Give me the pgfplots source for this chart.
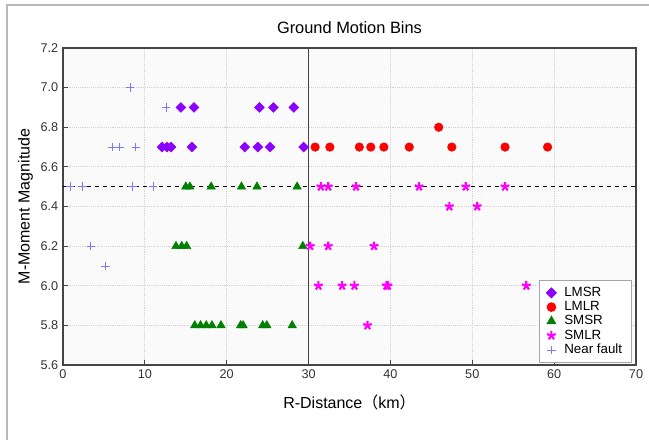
\documentclass[border=0pt]{standalone}
\usepackage{fontspec}
\setmainfont{Liberation Sans}
\newfontfamily\cjk{Noto Sans CJK SC}
\usepackage{pgfplots}
\pgfplotsset{compat=1.18}
\definecolor{lmsr}{HTML}{8B00FF}
\definecolor{lmlr}{HTML}{FF0000}
\definecolor{smsr}{HTML}{008000}
\definecolor{smlr}{HTML}{FF00FF}
\definecolor{nearf}{HTML}{7B7BFF}
\definecolor{axgray}{HTML}{444444}

\begin{document}
\begin{tikzpicture}[x=0.75pt,y=0.75pt]
\useasboundingbox (-63,-75) rectangle (586,365);
\draw[gray!55, line width=0.8pt] (-56,-75) -- (-56,360) -- (586,360);
\begin{axis}[
  at={(0,0)}, anchor=south west,
  scale only axis, width=429.75pt, height=237.75pt,
  xmin=0, xmax=70, ymin=5.6, ymax=7.2,
  xtick={0,10,...,70}, ytick={5.6,5.8,...,7.2},
  yticklabel style={/pgf/number format/fixed, /pgf/number format/precision=1, /pgf/number format/fixed zerofill},
  /pgf/number format/assume math mode=true,
  ticklabel style={font=\fontsize{9.5}{10}\selectfont, text=black!80},
  tick pos=left, tick align=inside, major tick length=4pt,
  axis line style={draw=axgray, line width=1pt}, tick style={draw=axgray, line width=0.8pt},
  grid=major, grid style={densely dotted, gray!35, line width=0.6pt},
  axis background/.style={fill=black!2},
  title={Ground Motion Bins}, title style={font=\fontsize{12.3}{14}\selectfont, yshift=1pt},
  xlabel={R-Distance{\cjk （}km{\cjk ）}}, ylabel={M-Moment Magnitude},
  label style={font=\fontsize{12}{14}\selectfont},
  xlabel style={yshift=-5pt}, ylabel style={yshift=-1pt},
  legend style={at={(0.993,0.006)}, anchor=south east, font=\fontsize{10}{12}\selectfont,
    draw=gray!70, line width=0.8pt, fill=white, row sep=-3pt, inner xsep=5pt, inner ysep=2.5pt,
    nodes={inner ysep=2.6pt},
    /tikz/every odd column/.append style={column sep=4pt}},
  legend cell align=left,
  clip=false,
]
\addplot[forget plot, black, dashed, line width=0.9pt] coordinates {(0,6.5) (70,6.5)};
\addplot[forget plot, axgray, line width=1pt] coordinates {(30,5.6) (30,7.2)};

\addplot[only marks, mark=square*, mark size=2.6pt, color=lmsr, mark options={rotate=45}] coordinates {
  (14.4,6.9) (16.0,6.9) (24.0,6.9) (25.7,6.9) (28.2,6.9)
  (12.1,6.7) (12.7,6.7) (13.2,6.7) (15.75,6.7) (22.2,6.7) (23.8,6.7) (25.3,6.7) (29.4,6.7)
};
\addplot[only marks, mark=*, mark size=3.2pt, color=lmlr] coordinates {
  (30.8,6.7) (32.6,6.7) (36.2,6.7) (37.6,6.7) (39.2,6.7) (42.3,6.7) (47.5,6.7) (54.0,6.7) (59.2,6.7)
  (45.9,6.8)
};
\addplot[only marks, mark=triangle*, mark size=3.6pt, color=smsr] coordinates {
  (15.0,6.5) (15.5,6.5) (18.1,6.5) (21.8,6.5) (23.7,6.5) (28.6,6.5)
  (13.8,6.2) (14.5,6.2) (15.1,6.2) (29.3,6.2)
  (16.1,5.8) (16.8,5.8) (17.5,5.8) (18.2,5.8) (19.3,5.8) (21.7,5.8) (22.0,5.8)
  (24.4,5.8) (24.9,5.8) (28.0,5.8)
};
\addplot[only marks, mark=star, mark size=3.4pt, color=smlr, mark options={line width=1.6pt}] coordinates {
  (31.5,6.5) (32.4,6.5) (35.8,6.5) (43.5,6.5) (49.2,6.5) (54.0,6.5)
  (47.2,6.4) (50.6,6.4)
  (30.2,6.2) (32.4,6.2) (38.0,6.2)
  (31.2,6.0) (34.1,6.0) (35.6,6.0) (39.5,6.0) (39.7,6.0) (56.6,6.0)
  (37.2,5.8)
};
\addplot[only marks, mark=+, mark size=3.2pt, color=nearf, mark options={line width=0.6pt}] coordinates {
  (8.2,7.0) (12.6,6.9)
  (6.05,6.7) (6.95,6.7) (8.9,6.7)
  (0.85,6.5) (2.4,6.5) (8.5,6.5) (11.0,6.5)
  (3.4,6.2) (5.2,6.1)
};
\legend{LMSR,LMLR,SMSR,SMLR,Near fault}
\end{axis}
\end{tikzpicture}
\end{document}
